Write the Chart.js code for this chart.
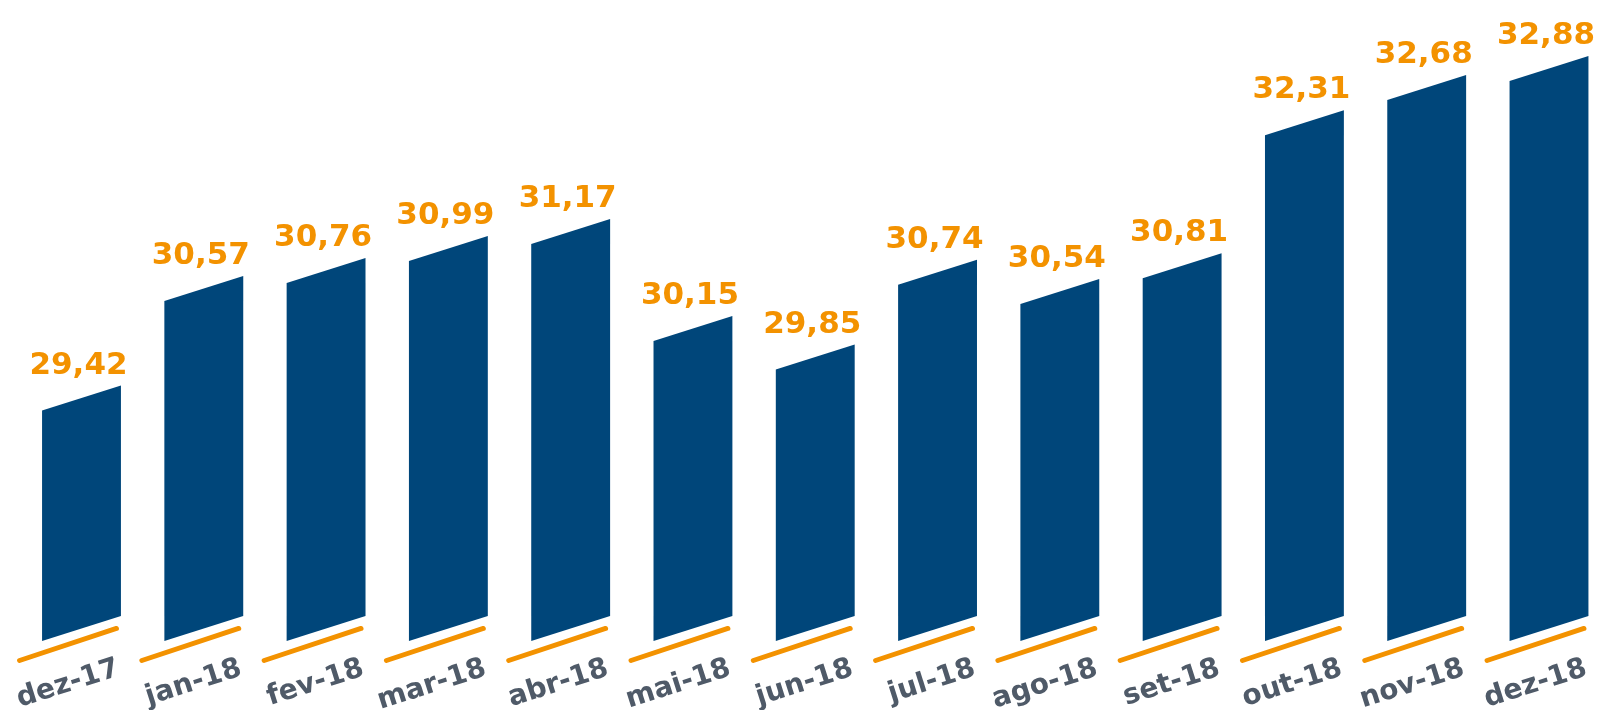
<!DOCTYPE html>
<html>
<head>
<meta charset="utf-8">
<script src="https://cdn.jsdelivr.net/npm/chart.js@4.4.0/dist/chart.umd.min.js"></script>
<style>
    html, body { margin: 0; padding: 0; background: #fff; }
    #wrap { width: 1597px; height: 710px; }
</style>
</head>
<body>
<div id="wrap"><canvas id="priceChart"></canvas></div>
<script>
const months = ['dez-17', 'jan-18', 'fev-18', 'mar-18', 'abr-18', 'mai-18', 'jun-18',
                'jul-18', 'ago-18', 'set-18', 'out-18', 'nov-18', 'dez-18'];
const values = [29.42, 30.57, 30.76, 30.99, 31.17, 30.15, 29.85, 30.74, 30.54, 30.81, 32.31, 32.68, 32.88];
const valueLabels = ['29,42', '30,57', '30,76', '30,99', '31,17', '30,15', '29,85',
                     '30,74', '30,54', '30,81', '32,31', '32,68', '32,88'];

const BLUE = '#00467A';
const ORANGE = '#F39200';
const GREY = '#4F5A68';

// draws each bar as a slanted parallelogram plus the orange underline and value
const slantBars = {
    id: 'slantBars',
    afterDatasetsDraw(chart) {
        const ctx = chart.ctx;
        const meta = chart.getDatasetMeta(0);
        ctx.save();
        meta.data.forEach((bar, i) => {
            const { x, y, base, width } = bar.getProps(['x', 'y', 'base', 'width'], true);
            const l = x - width / 2;
            const r = x + width / 2;
            const rise = width * 0.317; // slope of the top/bottom edges

            ctx.fillStyle = BLUE;
            ctx.beginPath();
            ctx.moveTo(l, base);
            ctx.lineTo(l, y);
            ctx.lineTo(r, y - rise);
            ctx.lineTo(r, base - rise);
            ctx.closePath();
            ctx.fill();

            ctx.strokeStyle = ORANGE;
            ctx.lineWidth = 5;
            ctx.lineCap = 'round';
            ctx.beginPath();
            ctx.moveTo(l - 22.5, base + 19.5);
            ctx.lineTo(r - 4.5, base - rise + 12.5);
            ctx.stroke();

            ctx.fillStyle = ORANGE;
            ctx.font = 'bold 31px "DejaVu Sans"';
            ctx.textAlign = 'center';
            ctx.textBaseline = 'alphabetic';
            ctx.fillText(valueLabels[i], x - 3, y - 37);
        });
        ctx.restore();
    }
};

new Chart(document.getElementById('priceChart'), {
    type: 'bar',
    data: {
        labels: months,
        datasets: [{
            data: values,
            base: 27,
            backgroundColor: 'rgba(0,0,0,0)',
            categoryPercentage: 1,
            barPercentage: 0.645
        }]
    },
    options: {
        responsive: true,
        maintainAspectRatio: false,
        animation: false,
        layout: { padding: { left: 81.5, right: 48, top: 22, bottom: 0 } },
        plugins: {
            legend: { display: false },
            tooltip: { enabled: false }
        },
        scales: {
            x: {
                offset: false,
                grid: { display: false },
                border: { display: false },
                ticks: {
                    autoSkip: false,
                    minRotation: 17.6,
                    maxRotation: 17.6,
                    labelOffset: 37,
                    padding: 3,
                    color: GREY,
                    font: { family: 'DejaVu Sans', weight: 'bold', size: 28 }
                },
                afterFit(scale) {
                    scale.height = 69;
                    scale.paddingLeft = 0;
                    scale.paddingRight = 0;
                }
            },
            y: {
                display: false,
                min: 27,
                max: 33.5
            }
        }
    },
    plugins: [slantBars]
});
</script>
</body>
</html>
